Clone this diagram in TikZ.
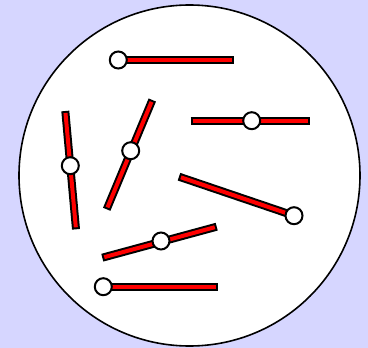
\documentclass[tikz,border=0pt]{standalone}
\definecolor{bg}{RGB}{214,214,255}
\definecolor{rodred}{RGB}{255,0,0}
\tikzset{
  rodouter/.style={line width=8pt, draw=black, line cap=butt},
  rodinner/.style={line width=4pt, draw=rodred, line cap=butt, shorten <=2pt, shorten >=2pt},
  pivot/.style={circle, draw=black, fill=white, line width=2pt, minimum size=17pt, inner sep=0pt}
}
\newcommand{\rod}[2]{\draw[rodouter] (#1) -- (#2); \draw[rodinner] (#1) -- (#2);}
\begin{document}
\begin{tikzpicture}[x=1pt,y=-1pt]
\fill[bg] (0,0) rectangle (368,348);
\useasboundingbox (0,0) rectangle (368,348);
\draw[line width=1.6pt, fill=white] (189.5,175.5) circle (170.5);
% rod ends
\coordinate (a1) at (118.3,60);   \coordinate (a2) at (234,60);
\coordinate (b1) at (190.7,120.7); \coordinate (b2) at (310,120.7);
\coordinate (c1) at (65.3,111);   \coordinate (c2) at (76,229.3);
\coordinate (d1) at (152.3,100);  \coordinate (d2) at (106.7,209.3);
\coordinate (e1) at (179,176.7);  \coordinate (e2) at (294,215.7);
\coordinate (f1) at (102.3,257.7); \coordinate (f2) at (216.7,226.7);
\coordinate (g1) at (103.3,286.7); \coordinate (g2) at (218.3,286.7);
\rod{a1}{a2}
\rod{b1}{b2}
\rod{c1}{c2}
\rod{d1}{d2}
\rod{e1}{e2}
\rod{f1}{f2}
\rod{g1}{g2}
% pivots
\node[pivot] (pa) at (118.3,60) {};
\node[pivot] (pb) at (251.7,120.7) {};
\node[pivot] (pc) at (70.3,165.7) {};
\node[pivot] (pd) at (130.7,150.7) {};
\node[pivot] (pe) at (294,215.7) {};
\node[pivot] (pf) at (161,241) {};
\node[pivot] (pg) at (103.3,286.7) {};
\end{tikzpicture}
\end{document}
